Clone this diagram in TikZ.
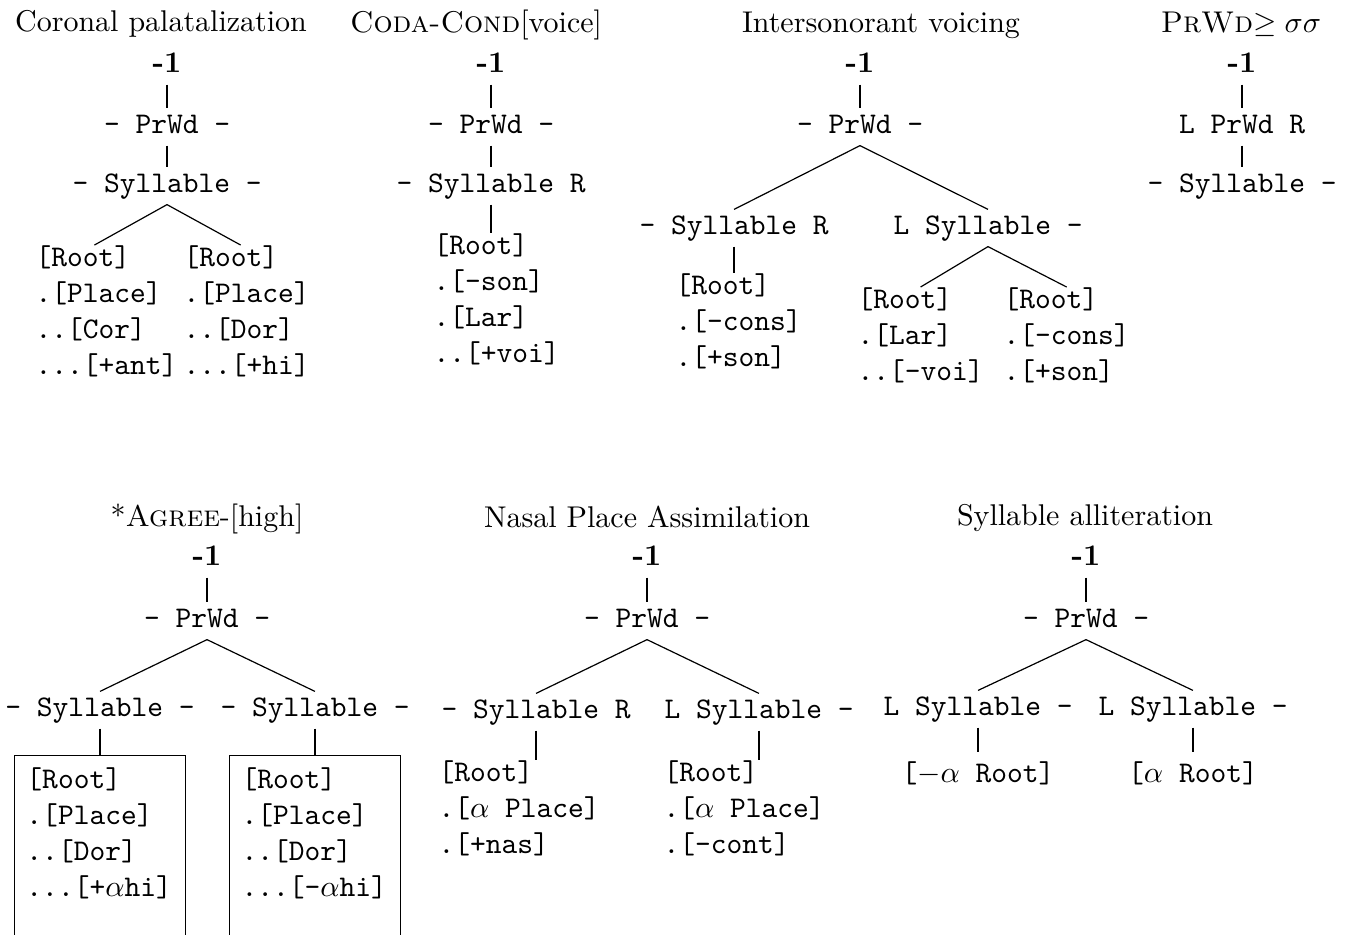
\documentclass[tikz,border=0pt]{standalone}
\tikzset{ttl/.style={anchor=base}}
\tikzset{cost/.style={anchor=base, font=\bfseries, inner sep=0pt, text height=7pt, text depth=4pt}}
\tikzset{lev/.style={anchor=base, font=\ttfamily, inner sep=0pt, text height=8pt, text depth=4pt}}
\tikzset{feat/.style={anchor=north west, font=\ttfamily, align=left, inner sep=0pt}}
\tikzset{featbox/.style={draw, anchor=north, font=\ttfamily, align=left, text width=49pt, inner sep=4pt}}

\begin{document}
\begin{tikzpicture}[x=0.33333pt, y=-0.33333pt]
\useasboundingbox (0,0) rectangle (1346,934);
% top row
\node [ttl] (aT) at (161,31) {Coronal palatalization};
\node [cost] (a1) at (167,72) {-1};
\node [lev] (aW) at (167,133) {- PrWd -};
\node [lev] (aS) at (167,192) {- Syllable -};
\node [feat] (aR1) at (35,245) {[Root]\\.[Place]\\..[Cor]\\...[+ant]};
\node [feat] (aR2) at (183,245) {[Root]\\.[Place]\\..[Dor]\\...[+hi]};
\draw (a1.south) -- (aW.north);
\draw (aW.south) -- (aS.north);
\draw (aS.south) -- ([xshift=-4pt]aR1.north);
\draw (aS.south) -- ([xshift=-2pt]aR2.north);

\node [ttl] (bT) at (476,32) {\textsc{Coda-Cond}[voice]};
\node [cost] (b1) at (491,72) {-1};
\node [lev] (bW) at (491,133) {- PrWd -};
\node [lev] (bS) at (491,192) {- Syllable R};
\node [feat] (bR) at (433,233) {[Root]\\.[-son]\\.[Lar]\\..[+voi]};
\draw (b1.south) -- (bW.north);
\draw (bW.south) -- (bS.north);
\draw (bS.south) -- (bS.south |- bR.north);

\node [ttl] (cT) at (881,32) {Intersonorant voicing};
\node [cost] (c1) at (860,72) {-1};
\node [lev] (cW) at (860,133) {- PrWd -};
\node [lev] (cS1) at (734,234) {- Syllable R};
\node [lev] (cS2) at (988,234) {L Syllable -};
\node [feat] (cR) at (675,273) {[Root]\\.[-cons]\\.[+son]};
\node [feat] (cR1) at (857,287) {[Root]\\.[Lar]\\..[-voi]};
\node [feat] (cR2) at (1003,287) {[Root]\\.[-cons]\\.[+son]};
\draw (c1.south) -- (cW.north);
\draw (cW.south) -- (cS1.north);
\draw (cW.south) -- (cS2.north);
\draw (cS1.south) -- (cS1.south |- cR.north);
\draw (cS2.south) -- (cR1.north);
\draw (cS2.south) -- (cR2.north);

\node [ttl] (dT) at (1241,32) {\textsc{PrWd}$\geq\sigma\sigma$};
\node [cost] (d1) at (1242,72) {-1};
\node [lev] (dW) at (1242,133) {L PrWd R};
\node [lev] (dS) at (1242,192) {- Syllable -};
\draw (d1.south) -- (dW.north);
\draw (dW.south) -- (dS.north);

% bottom row
\node [ttl] (eT) at (207,526) {*\textsc{Agree}-[high]};
\node [cost] (e1) at (207,565) {-1};
\node [lev] (eW) at (207,627) {- PrWd -};
\node [lev] (eS1) at (100,716) {- Syllable -};
\node [lev] (eS2) at (315,716) {- Syllable -};
\node [featbox] (eB1) at (100,755) {[Root]\\.[Place]\\..[Dor]\\...[+$\alpha$hi]\\[6pt]~};
\node [featbox] (eB2) at (315,755) {[Root]\\.[Place]\\..[Dor]\\...[-$\alpha$hi]\\[6pt]~};
\draw (e1.south) -- (eW.north);
\draw (eW.south) -- (eS1.north);
\draw (eW.south) -- (eS2.north);
\draw (eS1.south) -- (eB1.north);
\draw (eS2.south) -- (eB2.north);

\node [ttl] (fT) at (647,527) {Nasal Place Assimilation};
\node [cost] (f1) at (647,565) {-1};
\node [lev] (fW) at (647,627) {- PrWd -};
\node [lev] (fS1) at (536,718) {- Syllable R};
\node [lev] (fS2) at (759,718) {L Syllable -};
\node [feat] (fR1) at (438,760) {[Root]\\.[$\alpha$ Place]\\.[+nas]};
\node [feat] (fR2) at (663,760) {[Root]\\.[$\alpha$ Place]\\.[-cont]};
\draw (f1.south) -- (fW.north);
\draw (fW.south) -- (fS1.north);
\draw (fW.south) -- (fS2.north);
\draw (fS1.south) -- (fS1.south |- fR1.north);
\draw (fS2.south) -- (fS2.south |- fR2.north);

\node [ttl] (gT) at (1085,525) {Syllable alliteration};
\node [cost] (g1) at (1086,565) {-1};
\node [lev] (gW) at (1086,627) {- PrWd -};
\node [lev] (gS1) at (978,715) {L Syllable -};
\node [lev] (gS2) at (1193,715) {L Syllable -};
\node [feat, anchor=north, inner ysep=3pt] (gR1) at (978,752) {[$-\alpha$ Root]};
\node [feat, anchor=north, inner ysep=3pt] (gR2) at (1193,752) {[$\alpha$ Root]};
\draw (g1.south) -- (gW.north);
\draw (gW.south) -- (gS1.north);
\draw (gW.south) -- (gS2.north);
\draw (gS1.south) -- (gR1.north);
\draw (gS2.south) -- (gR2.north);
\end{tikzpicture}
\end{document}
